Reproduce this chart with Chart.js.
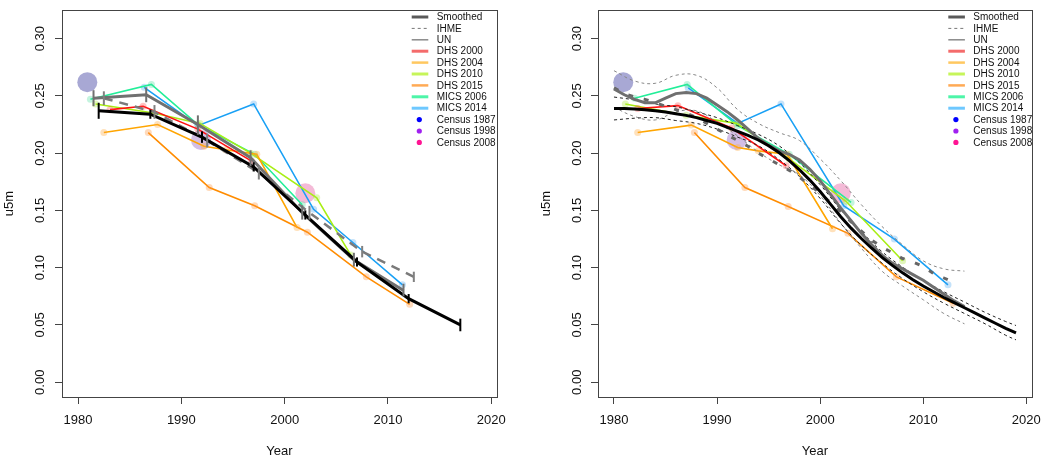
<!DOCTYPE html>
<html>
<head>
<meta charset="utf-8">
<script src="https://cdn.jsdelivr.net/npm/chart.js@4.4.0/dist/chart.umd.min.js"></script>
<style>
  html, body { margin: 0; padding: 0; background: #fff; }
  #wrap { position: relative; width: 1050px; height: 463px; }
  .panel { position: absolute; top: 0; width: 525px; height: 463px; }
</style>
</head>
<body>
<div id="wrap">
  <div class="panel" style="left:0"><canvas id="left" width="525" height="463"></canvas></div>
  <div class="panel" style="left:525px"><canvas id="right" width="525" height="463"></canvas></div>
</div>
<script>
// ticks
const yearTicks = [1980, 1990, 2000, 2010, 2020];
const u5mTicks = [0, 0.05, 0.10, 0.15, 0.20, 0.25, 0.30];
const legendLabels = ['Smoothed', 'IHME', 'UN', 'DHS 2000', 'DHS 2004', 'DHS 2010', 'DHS 2015',
  'MICS 2006', 'MICS 2014', 'Census 1987', 'Census 1998', 'Census 2008'];

// ---- left panel: 5 year periods ----
const smoothYears = [1982, 1987, 1992, 1997, 2002, 2007, 2012, 2017];
const smoothU5m = [0.237, 0.234, 0.214, 0.188, 0.146, 0.105, 0.073, 0.050];
const smoothLow = [0.230, 0.230, 0.209, 0.184, 0.142, 0.101, 0.069, 0.0445];
const smoothHigh = [0.244, 0.238, 0.219, 0.192, 0.150, 0.109, 0.077, 0.0555];

const directYears = [1981.5, 1986.6, 1991.6, 1996.7, 2001.7, 2006.7, 2011.5];
const directU5m = [0.248, 0.251, 0.225, 0.196, 0.148, 0.107, 0.080];
const directLow = [0.241, 0.2445, 0.216, 0.1885, 0.142, 0.101, 0.075];
const directHigh = [0.255, 0.2575, 0.233, 0.2025, 0.1545, 0.113, 0.086];

const ihmeYears = [1982.5, 1987.4, 1992.5, 1997.5, 2002.4, 2007.5, 2012.5];
const ihmeU5m = [0.248, 0.236, 0.211, 0.183, 0.148, 0.114, 0.092];
const ihmeLow = [0.242, 0.230, 0.205, 0.177, 0.142, 0.109, 0.0875];
const ihmeHigh = [0.254, 0.242, 0.217, 0.189, 0.154, 0.119, 0.0965];

// ---- right panel: yearly ----
const yearsAll = [1980, 1981, 1982, 1983, 1984, 1985, 1986, 1987, 1988, 1989,
  1990, 1991, 1992, 1993, 1994, 1995, 1996, 1997, 1998, 1999,
  2000, 2001, 2002, 2003, 2004, 2005, 2006, 2007, 2008, 2009,
  2010, 2011, 2012, 2013, 2014, 2015, 2016, 2017, 2018, 2019];
const yearlySmooth = [0.239, 0.239, 0.2385, 0.238, 0.237, 0.236, 0.2345, 0.233, 0.231, 0.2285,
  0.226, 0.2225, 0.219, 0.2155, 0.2115, 0.2065, 0.2005, 0.1935, 0.1855, 0.1765,
  0.1665, 0.1555, 0.1445, 0.1345, 0.1255, 0.117, 0.109, 0.102, 0.0955, 0.0895,
  0.084, 0.079, 0.074, 0.0695, 0.065, 0.0605, 0.056, 0.0515, 0.047, 0.043];
const smoothBandYears = [1980, 1982, 1984, 1986, 1988, 1990, 1992, 1994, 1996, 1998, 2000,
  2002, 2004, 2006, 2008, 2010, 2012, 2014, 2016, 2018, 2019];
const yearlySmoothHigh = [0.249, 0.2465, 0.243, 0.2405, 0.236, 0.231, 0.224, 0.2165, 0.2065, 0.1915, 0.1725,
  0.1505, 0.1315, 0.114, 0.1005, 0.089, 0.079, 0.070, 0.061, 0.053, 0.0495];
const yearlySmoothLow = [0.229, 0.2305, 0.231, 0.2285, 0.226, 0.221, 0.214, 0.2065, 0.1945, 0.1795, 0.1605,
  0.1385, 0.1195, 0.104, 0.0905, 0.079, 0.069, 0.060, 0.051, 0.041, 0.037];

const directYearsR = [1980, 1981, 1982, 1983, 1984, 1985, 1986, 1987, 1988, 1989,
  1990, 1991, 1992, 1993, 1994, 1995, 1996, 1997, 1998, 1999,
  2000, 2001, 2002, 2003, 2004, 2005, 2006, 2007, 2008, 2009,
  2010, 2011, 2012, 2013, 2014];
const yearlyDirect = [0.256, 0.251, 0.247, 0.244, 0.244, 0.248, 0.252, 0.253, 0.252, 0.248,
  0.242, 0.236, 0.229, 0.221, 0.213, 0.207, 0.202, 0.199, 0.194, 0.186,
  0.176, 0.164, 0.152, 0.141, 0.130, 0.120, 0.111, 0.104, 0.099, 0.094,
  0.089, 0.083, 0.077, 0.071, 0.066];
const directBandYears = [1980, 1982, 1984, 1986, 1988, 1990, 1992, 1994, 1996, 1998,
  2000, 2002, 2004, 2006, 2008, 2010, 2012, 2014];
const yearlyDirectHigh = [0.272, 0.263, 0.261, 0.268, 0.268, 0.257, 0.238, 0.226, 0.218, 0.211,
  0.195, 0.176, 0.155, 0.136, 0.120, 0.106, 0.099, 0.097];
const yearlyDirectLow = [0.240, 0.232, 0.229, 0.236, 0.237, 0.227, 0.215, 0.201, 0.190, 0.181,
  0.163, 0.139, 0.117, 0.097, 0.084, 0.072, 0.060, 0.051];

const ihmeYearsR = [1980, 1981, 1982, 1983, 1984, 1985, 1986, 1987, 1988, 1989,
  1990, 1991, 1992, 1993, 1994, 1995, 1996, 1997, 1998, 1999,
  2000, 2001, 2002, 2003, 2004, 2005, 2006, 2007, 2008, 2009,
  2010, 2011, 2012, 2013];
const yearlyIhme = [0.257, 0.252, 0.249, 0.247, 0.244, 0.241, 0.238, 0.235, 0.231, 0.226,
  0.221, 0.216, 0.211, 0.206, 0.200, 0.195, 0.190, 0.185, 0.179, 0.172,
  0.165, 0.157, 0.149, 0.140, 0.132, 0.124, 0.118, 0.113, 0.108, 0.105,
  0.101, 0.095, 0.091, 0.087];

// ---- surveys (left / right) ----
const dhs2000X = [1983.1, 1986.3, 1991.6, 1996.8];
const dhs2000Y = [0.238, 0.241, 0.221, 0.193];
const dhs2004X = [1982.5, 1987.7, 1992.2, 1994.3, 1997.3, 2001.2];
const dhs2004Y = [0.218, 0.225, 0.206, 0.203, 0.199, 0.135];
const dhs2010X = [1981.7, 1987.3, 1991.8, 1996.7, 2003.1, 2006.4];
const dhs2010Y = [0.243, 0.235, 0.226, 0.200, 0.161, 0.111];
const dhs2015X = [1986.8, 1992.7, 1997.1, 2002.2, 2007.9, 2012.1];
const dhs2015Y = [0.218, 0.170, 0.154, 0.131, 0.092, 0.068];
const mics2006X = [1981.2, 1987.1, 1991.6, 1997.1, 2001.7];
const mics2006Y = [0.247, 0.260, 0.225, 0.199, 0.155];
const mics2014X = [1986.4, 1991.6, 1997.0, 2002.8, 2006.6, 2011.4];
const mics2014Y = [0.2575, 0.224, 0.243, 0.151, 0.122, 0.085];

const dhs2000XR = [1982.3, 1986.2, 1991.4, 1996.7];
const dhs2000YR = [0.239, 0.2415, 0.222, 0.189];
const dhs2004XR = [1982.3, 1987.5, 1992.0, 1994.0, 1996.8, 2001.2];
const dhs2004YR = [0.218, 0.2245, 0.205, 0.202, 0.199, 0.134];
const dhs2010XR = [1981.1, 1987.0, 1991.9, 1997.0, 2002.5, 2008.0];
const dhs2010YR = [0.243, 0.233, 0.226, 0.195, 0.158, 0.106];
const dhs2015XR = [1987.8, 1992.7, 1996.9, 2002.7, 2007.4, 2012.9];
const dhs2015YR = [0.218, 0.170, 0.1535, 0.130, 0.092, 0.069];
const mics2006XR = [1982.0, 1987.1, 1992.0, 1997.0, 2003.0];
const mics2006YR = [0.248, 0.260, 0.224, 0.199, 0.157];
const mics2014XR = [1987.2, 1992.0, 1996.2, 2002.3, 2007.2, 2012.4];
const mics2014YR = [0.257, 0.226, 0.243, 0.154, 0.125, 0.085];

const censusYears = [1980.9, 1991.9, 2002.0];
const censusU5m = [0.262, 0.2115, 0.165];

// ---- styles ----
const FONT = '"Liberation Sans", Arial, Helvetica, sans-serif';
const legendStyles = [
  { color: '#5a5a5a', width: 3 },
  { color: '#777777', width: 1, dash: [3, 3] },
  { color: '#8a8a8a', width: 1.5 },
  { color: '#f46b6b', width: 3 },
  { color: '#ffc860', width: 2.5 },
  { color: '#c6f55a', width: 3 },
  { color: '#ffaa55', width: 2.5 },
  { color: '#4df5a8', width: 3 },
  { color: '#6ec8ff', width: 3 },
  { dot: '#0000ff' },
  { dot: '#a020f0' },
  { dot: '#ff1493' }
];

function pts(xs, ys) {
  return xs.map((x, i) => ({ x: x, y: ys[i] }));
}

function line(label, xs, ys, color, width, extra) {
  return Object.assign({
    label: label,
    data: pts(xs, ys),
    showLine: true,
    borderColor: color,
    backgroundColor: color,
    borderWidth: width,
    pointRadius: 0,
    pointHoverRadius: 0,
    fill: false,
    tension: 0
  }, extra || {});
}

function survey(label, xs, ys, color, dot) {
  return line(label, xs, ys, color, 1.6, {
    pointRadius: 3.5, pointBackgroundColor: dot, pointBorderWidth: 0, order: 6
  });
}

function surveys(r) {
  return [
    survey('DHS 2000', r ? dhs2000XR : dhs2000X, r ? dhs2000YR : dhs2000Y, '#ff1010', 'rgba(255,60,60,0.3)'),
    survey('DHS 2004', r ? dhs2004XR : dhs2004X, r ? dhs2004YR : dhs2004Y, '#ffa500', 'rgba(255,170,60,0.35)'),
    survey('DHS 2010', r ? dhs2010XR : dhs2010X, r ? dhs2010YR : dhs2010Y, '#a8ee14', 'rgba(170,230,60,0.35)'),
    survey('DHS 2015', r ? dhs2015XR : dhs2015X, r ? dhs2015YR : dhs2015Y, '#ff8c00', 'rgba(255,150,60,0.35)'),
    survey('MICS 2006', r ? mics2006XR : mics2006X, r ? mics2006YR : mics2006Y, '#22ee99', 'rgba(60,220,150,0.3)'),
    survey('MICS 2014', r ? mics2014XR : mics2014X, r ? mics2014YR : mics2014Y, '#18a0f5', 'rgba(60,160,240,0.3)'),
    {
      label: 'Census', data: pts(censusYears, censusU5m), showLine: false, order: 9,
      pointRadius: 10, pointHoverRadius: 10, pointBorderWidth: 0,
      pointBackgroundColor: ['rgba(0,0,128,0.34)', 'rgba(110,40,170,0.3)', 'rgba(220,40,130,0.32)']
    }
  ];
}

function panelPlugin(cfg) {
  return {
    id: 'panel_' + cfg.name,
    afterDatasetsDraw(chart) {
      const xs = chart.scales.x, ys = chart.scales.y, ctx = chart.ctx;
      ctx.save();
      cfg.bars.forEach(b => {
        ctx.strokeStyle = b.color;
        ctx.lineWidth = b.width;
        b.xs.forEach((x, i) => {
          const px = xs.getPixelForValue(x);
          ctx.beginPath();
          ctx.moveTo(px, ys.getPixelForValue(b.lo[i]));
          ctx.lineTo(px, ys.getPixelForValue(b.hi[i]));
          ctx.stroke();
        });
      });
      ctx.restore();
    },
    afterDraw(chart) {
      const a = chart.chartArea, ctx = chart.ctx, ys = chart.scales.y;
      ctx.save();
      ctx.strokeStyle = '#444';
      ctx.lineWidth = 1;
      ctx.strokeRect(Math.round(a.left) + 0.5, Math.round(a.top) + 0.5,
        Math.round(a.right - a.left), Math.round(a.bottom - a.top));

      // rotated y tick labels, like R
      ctx.fillStyle = '#111';
      ctx.font = '13px ' + FONT;
      ctx.textAlign = 'center';
      ctx.textBaseline = 'middle';
      ys.ticks.forEach(t => {
        ctx.save();
        ctx.translate(cfg.yLabelX, ys.getPixelForValue(t.value));
        ctx.rotate(-Math.PI / 2);
        ctx.fillText(t.value.toFixed(2), 0, 0);
        ctx.restore();
      });

      // legend
      ctx.font = '10px ' + FONT;
      ctx.textAlign = 'left';
      legendLabels.forEach((lab, i) => {
        const y = 17 + i * 11.4;
        const st = legendStyles[i];
        if (st.dot) {
          ctx.fillStyle = st.dot;
          ctx.beginPath();
          ctx.arc(cfg.lx1 + 7.6, y, 2.6, 0, Math.PI * 2);
          ctx.fill();
        } else {
          ctx.strokeStyle = st.color;
          ctx.lineWidth = st.width;
          ctx.setLineDash(st.dash || []);
          ctx.beginPath();
          ctx.moveTo(cfg.lx1, y);
          ctx.lineTo(cfg.lx1 + 16.6, y);
          ctx.stroke();
          ctx.setLineDash([]);
        }
        ctx.fillStyle = '#111';
        ctx.fillText(lab, cfg.lx1 + 25, y + 0.5);
      });
      ctx.restore();
    }
  };
}

function makeChart(id, cfg, datasets) {
  return new Chart(document.getElementById(id), {
    type: 'scatter',
    data: { datasets: datasets },
    options: {
      responsive: false,
      animation: false,
      devicePixelRatio: 1,
      events: [],
      layout: { padding: { top: 5, right: cfg.padRight, bottom: 0, left: 0 } },
      plugins: { legend: { display: false }, tooltip: { enabled: false } },
      scales: {
        x: {
          type: 'linear', min: 1978.45, max: 2020.55,
          afterBuildTicks: s => { s.ticks = yearTicks.map(v => ({ value: v })); },
          afterFit: s => { s.height = 66; },
          ticks: { color: '#111', font: { size: 13, family: FONT }, padding: 9, callback: v => String(v) },
          grid: { drawOnChartArea: false, drawTicks: true, tickLength: 7, color: '#444' },
          border: { display: true, color: '#444' },
          title: { display: true, text: 'Year', color: '#111', font: { size: 13, family: FONT }, padding: { top: 0, bottom: 4 } }
        },
        y: {
          type: 'linear', min: -0.0129, max: 0.325,
          afterBuildTicks: s => { s.ticks = u5mTicks.map(v => ({ value: v })); },
          afterFit: s => { s.width = cfg.yWidth; },
          ticks: { display: false },
          grid: { drawOnChartArea: false, drawTicks: true, tickLength: 7, color: '#444' },
          border: { display: true, color: '#444' },
          title: { display: true, text: 'u5m', color: '#111', font: { size: 13, family: FONT }, padding: { top: cfg.titlePad, bottom: 0 } }
        }
      }
    },
    plugins: [panelPlugin(cfg)]
  });
}

// left: period estimates with error bars
makeChart('left', {
  name: 'left', padRight: 28, yWidth: 62, yLabelX: 40, titlePad: 2, lx1: 411.7,
  bars: [
    { xs: directYears, lo: directLow, hi: directHigh, color: '#707070', width: 2 },
    { xs: ihmeYears, lo: ihmeLow, hi: ihmeHigh, color: '#808080', width: 2 },
    { xs: smoothYears, lo: smoothLow, hi: smoothHigh, color: '#000', width: 2 }
  ]
}, [
  line('Smoothed', smoothYears, smoothU5m, '#000', 3, { order: 0 }),
  line('Direct', directYears, directU5m, '#707070', 3, { order: 1 }),
  line('IHME', ihmeYears, ihmeU5m, '#7a7a7a', 2.5, { order: 2, borderDash: [9, 7] })
].concat(surveys(false)));

// right: yearly estimates with bands
makeChart('right', {
  name: 'right', padRight: 17, yWidth: 73, yLabelX: 52, titlePad: 14, lx1: 423.3,
  bars: []
}, [
  line('Smoothed', yearsAll, yearlySmooth, '#000', 3, { order: 0 }),
  line('Smoothed upper', smoothBandYears, yearlySmoothHigh, '#222', 1, { order: 3, borderDash: [3, 3], tension: 0.4 }),
  line('Smoothed lower', smoothBandYears, yearlySmoothLow, '#222', 1, { order: 3, borderDash: [3, 3], tension: 0.4 }),
  line('Direct', directYearsR, yearlyDirect, '#6f6f6f', 3, { order: 1 }),
  line('Direct upper', directBandYears, yearlyDirectHigh, '#888', 1, { order: 4, borderDash: [3, 3], tension: 0.4 }),
  line('Direct lower', directBandYears, yearlyDirectLow, '#888', 1, { order: 4, borderDash: [3, 3], tension: 0.4 }),
  line('IHME', ihmeYearsR, yearlyIhme, '#666', 3, { order: 2, borderDash: [5, 11] })
].concat(surveys(true)));
</script>
</body>
</html>
